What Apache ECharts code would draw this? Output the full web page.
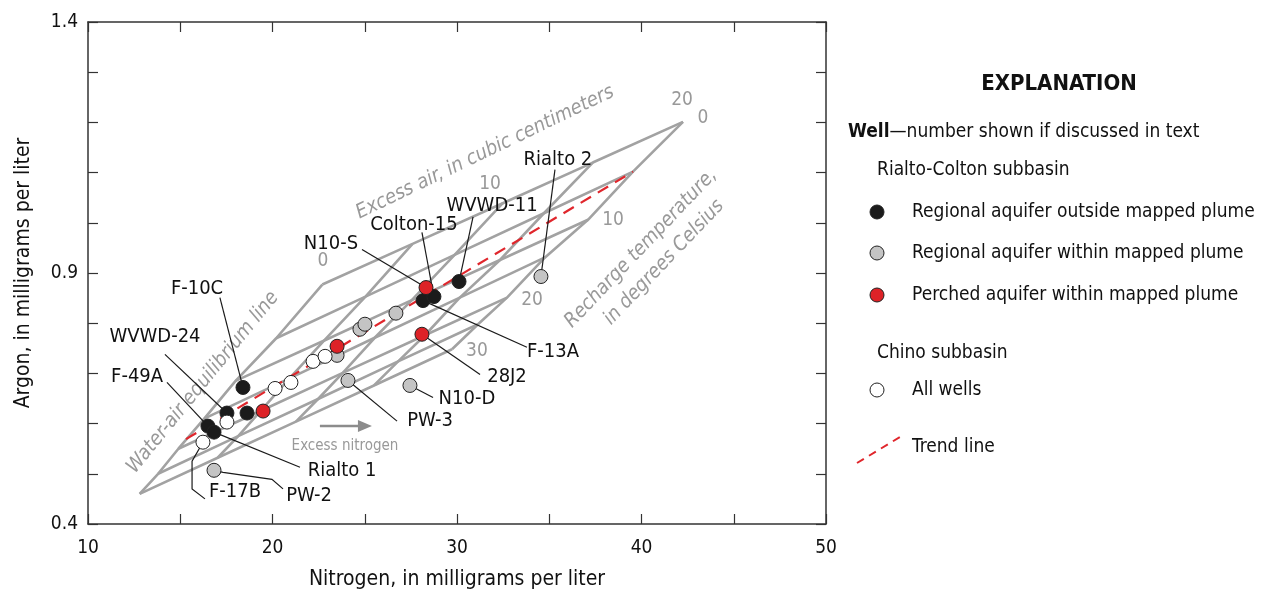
<!DOCTYPE html>
<html>
<head>
<meta charset="utf-8">
<script src="https://cdn.jsdelivr.net/npm/echarts@6/dist/echarts.min.js"></script>
<style>html,body{margin:0;background:#fff}#main{width:1268px;height:595px}</style>
</head>
<body>
<div id="main"></div>
<script>
// wells, [nitrogen mg/L, argon mg/L]
const regionalOutside = [[18.40, 0.672], [17.53, 0.621], [18.62, 0.621], [16.50, 0.595], [16.83, 0.583], [28.16, 0.845], [28.75, 0.853], [30.11, 0.883]];
const regionalWithin = [[16.83, 0.507], [23.50, 0.736], [24.74, 0.788], [25.01, 0.798], [26.69, 0.820], [24.09, 0.686], [27.45, 0.676], [34.55, 0.893]];
const perched = [[19.49, 0.625], [23.50, 0.754], [28.32, 0.871], [28.10, 0.778]];
const chinoWells = [[16.23, 0.563], [17.53, 0.603], [20.14, 0.670], [21.00, 0.682], [22.20, 0.724], [22.85, 0.734]];
const trendLine = [[15.31, 0.569], [39.54, 1.102]];

// recharge temperature / excess air grid, nodes per excess-air level ordered by temperature
const tempC = [0, 5, 10, 15, 20, 25, 30];
const airCc = [0, 5, 10, 15, 20];
const airLine0 = [[22.70, 0.877], [20.20, 0.770], [18.00, 0.685], [16.30, 0.610], [14.90, 0.550], [13.80, 0.500], [12.80, 0.460]];
const airLine5 = [[27.59, 0.958], [25.04, 0.853], [22.78, 0.765], [20.92, 0.690], [19.35, 0.625], [18.14, 0.575], [17.03, 0.532]];
const airLine10 = [[32.48, 1.039], [29.87, 0.936], [27.55, 0.846], [25.54, 0.771], [23.81, 0.701], [22.47, 0.649], [21.27, 0.604]];
const airLine15 = [[37.36, 1.120], [34.71, 1.019], [32.33, 0.926], [30.15, 0.851], [28.26, 0.776], [26.81, 0.724], [25.50, 0.676]];
const airLine20 = [[42.25, 1.201], [39.54, 1.102], [37.10, 1.006], [34.77, 0.931], [32.71, 0.851], [31.14, 0.798], [29.73, 0.748]];
const airLines = [airLine0, airLine5, airLine10, airLine15, airLine20];

// well labels (data coords of label centre) and leader paths
const wellNames = ['F-10C', 'WVWD-24', 'F-49A', 'Rialto 1', 'F-17B', 'PW-2', 'PW-3', 'N10-D', '28J2', 'F-13A', 'N10-S', 'Colton-15', 'WVWD-11', 'Rialto 2'];
const wellLabelAt = [[15.91, 0.869], [13.63, 0.772], [12.66, 0.694], [23.77, 0.505], [17.97, 0.464], [21.98, 0.456], [28.54, 0.605], [30.54, 0.649], [32.71, 0.694], [35.20, 0.744], [23.17, 0.959], [27.67, 0.996], [31.90, 1.034], [35.47, 1.126]];
const leaders = [
  [[17.15, 0.851], [18.40, 0.672]],
  [[14.17, 0.738], [17.53, 0.621]],
  [[14.28, 0.682], [16.50, 0.595]],
  [[16.83, 0.583], [21.49, 0.513]],
  [[16.23, 0.563], [15.64, 0.525], [15.64, 0.470], [16.34, 0.450]],
  [[16.83, 0.507], [17.32, 0.503], [19.97, 0.489], [20.57, 0.470]],
  [[24.09, 0.686], [26.75, 0.605]],
  [[27.45, 0.676], [28.70, 0.652]],
  [[28.10, 0.778], [31.25, 0.698]],
  [[28.16, 0.845], [33.79, 0.752]],
  [[24.85, 0.947], [28.32, 0.871]],
  [[28.10, 0.981], [28.75, 0.853]],
  [[30.87, 1.012], [30.11, 0.883]],
  [[35.31, 1.106], [34.55, 0.893]]
];

// grid scale numbers (excess air along the top, temperature along the right)
const scaleText = ['0', '10', '20', '0', '10', '20', '30'];
const scaleAt = [[22.74, 0.923], [31.79, 1.078], [42.20, 1.245], [43.33, 1.209], [38.46, 1.006], [34.07, 0.847], [31.08, 0.744]];
const captions = ['Excess air, in cubic centimeters', 'Recharge temperature,', 'in degrees Celsius', 'Water-air equilibrium line', 'Excess nitrogen'];
const captionAt = [[31.52, 1.140], [39.97, 0.949], [41.22, 0.921], [16.23, 0.682], [23.93, 0.555]];
const captionRot = [25.7, 46.4, 46.4, 50.8, 0];
const arrowLine = [[22.57, 0.595], [25.39, 0.595]];

const FONT = "'Liberation Sans Narrow', 'DejaVu Sans Condensed', 'Roboto', sans-serif";
const GRAY = '#a2a2a2';
const GRAY_TEXT = '#999999';

const gridSeries = [];
airLines.forEach(function (line) {
  gridSeries.push({ type: 'line', data: line, showSymbol: false, silent: true, z: 1, lineStyle: { color: GRAY, width: 2.6 } });
});
tempC.forEach(function (t, i) {
  gridSeries.push({ type: 'line', data: airLines.map(function (l) { return l[i]; }), showSymbol: false, silent: true, z: 1, lineStyle: { color: GRAY, width: 2.6 } });
});

function wellSeries(name, data, color) {
  return {
    name: name, type: 'scatter', data: data, symbolSize: 14, z: 5,
    itemStyle: { color: color, borderColor: '#222', borderWidth: 1, opacity: 1 }
  };
}

const chart = echarts.init(document.getElementById('main'));

const yTicks = [0.4, 0.9, 1.4];

chart.setOption({
  animation: false,
  backgroundColor: '#fff',
  grid: { left: 88, top: 22, width: 738, height: 503 },
  xAxis: [{
    type: 'value', min: 10, max: 50, interval: 5, position: 'bottom',
    name: 'Nitrogen, in milligrams per liter', nameLocation: 'middle', nameGap: 45,
    nameTextStyle: { fontSize: 21, color: '#111', fontFamily: FONT },
    axisLine: { lineStyle: { color: '#333', width: 1.5 } },
    axisTick: { inside: true, length: 10, lineStyle: { color: '#333', width: 1.2 } },
    axisLabel: { fontSize: 19, color: '#111', fontFamily: FONT, margin: 15, formatter: function (v) { return v % 10 === 0 ? String(v) : ''; } },
    splitLine: { show: false }
  }, {
    type: 'value', min: 10, max: 50, interval: 5, position: 'top',
    axisLine: { lineStyle: { color: '#333', width: 1.5 } },
    axisTick: { inside: true, length: 10, lineStyle: { color: '#333', width: 1.2 } },
    axisLabel: { show: false }, splitLine: { show: false }
  }],
  yAxis: [{
    type: 'value', min: 0.4, max: 1.4, interval: 0.1, position: 'left',
    name: 'Argon, in milligrams per liter', nameLocation: 'middle', nameGap: 54, nameRotate: 90,
    nameTextStyle: { fontSize: 21, color: '#111', fontFamily: FONT },
    axisLine: { lineStyle: { color: '#333', width: 1.5 } },
    axisTick: { inside: true, length: 10, lineStyle: { color: '#333', width: 1.2 } },
    axisLabel: { fontSize: 19, color: '#111', fontFamily: FONT, margin: 10, formatter: function (v) {
      return yTicks.some(function (t) { return Math.abs(t - v) < 1e-6; }) ? v.toFixed(1) : '';
    } },
    splitLine: { show: false }
  }, {
    type: 'value', min: 0.4, max: 1.4, interval: 0.1, position: 'right',
    axisLine: { lineStyle: { color: '#333', width: 1.5 } },
    axisTick: { inside: true, length: 10, lineStyle: { color: '#333', width: 1.2 } },
    axisLabel: { show: false }, splitLine: { show: false }
  }],
  series: gridSeries.concat([
    {
      type: 'line', data: trendLine, showSymbol: false, silent: true, z: 2,
      lineStyle: { color: '#e0262c', width: 2.2, type: [12, 8] }
    },
    {
      // grey scale numbers, captions and excess-nitrogen arrow
      type: 'custom', silent: true, z: 2,
      data: [[0, 0]],
      renderItem: function (params, api) {
        const kids = [];
        scaleText.forEach(function (t, i) {
          const c = api.coord(scaleAt[i]);
          kids.push({ type: 'text', x: c[0], y: c[1], style: { text: t, fill: GRAY_TEXT, fontSize: 19, fontFamily: FONT, align: 'center', verticalAlign: 'middle' } });
        });
        captions.forEach(function (t, i) {
          const c = api.coord(captionAt[i]);
          const last = i === captions.length - 1;
          kids.push({
            type: 'text', x: c[0], y: c[1], rotation: captionRot[i] * Math.PI / 180,
            style: { text: t, fill: GRAY_TEXT, fontSize: last ? 15 : 20, fontStyle: last ? 'normal' : 'italic', fontFamily: FONT, align: 'center', verticalAlign: 'middle' }
          });
        });
        const a0 = api.coord(arrowLine[0]);
        const a1 = api.coord(arrowLine[1]);
        kids.push({ type: 'line', shape: { x1: a0[0], y1: a0[1], x2: a1[0] - 10, y2: a1[1] }, style: { stroke: '#8c8c8c', lineWidth: 2.5 } });
        kids.push({ type: 'polygon', shape: { points: [[a1[0], a1[1]], [a1[0] - 14, a1[1] - 6], [a1[0] - 14, a1[1] + 6]] }, style: { fill: '#8c8c8c' } });
        return { type: 'group', children: kids };
      }
    },
    {
      // well labels with leader lines
      type: 'custom', silent: true, z: 4,
      data: wellNames.map(function (n, i) { return wellLabelAt[i]; }),
      renderItem: function (params, api) {
        const i = params.dataIndex;
        const pts = leaders[i].map(function (p) { return api.coord(p); });
        const c = api.coord(wellLabelAt[i]);
        return {
          type: 'group', children: [
            { type: 'polyline', shape: { points: pts }, style: { stroke: '#1a1a1a', lineWidth: 1.2, fill: null } },
            { type: 'text', x: c[0], y: c[1], style: { text: wellNames[i], fill: '#111', fontSize: 20, fontFamily: FONT, align: 'center', verticalAlign: 'middle' } }
          ]
        };
      }
    },
    wellSeries('Regional aquifer outside mapped plume', regionalOutside, '#1b1b1b'),
    wellSeries('Regional aquifer within mapped plume', regionalWithin, '#c4c4c4'),
    wellSeries('Perched aquifer within mapped plume', perched, '#dd2227'),
    wellSeries('All wells', chinoWells, '#ffffff')
  ]),
  graphic: [
    { type: 'text', x: 1059, y: 84, style: { text: 'EXPLANATION', fontSize: 22, fontWeight: 'bold', fill: '#111', fontFamily: FONT, align: 'center', verticalAlign: 'middle' } },
    { type: 'text', x: 848, y: 132, style: {
      text: '{b|Well}—number shown if discussed in text', fontSize: 19, fill: '#111', fontFamily: FONT, verticalAlign: 'middle',
      rich: { b: { fontWeight: 'bold', fontSize: 19, fontFamily: FONT, fill: '#111' } }
    } },
    { type: 'text', x: 877, y: 170, style: { text: 'Rialto-Colton subbasin', fontSize: 19, fill: '#111', fontFamily: FONT, verticalAlign: 'middle' } },
    { type: 'circle', shape: { cx: 877, cy: 212, r: 7 }, style: { fill: '#1b1b1b', stroke: '#222', lineWidth: 1 } },
    { type: 'text', x: 912, y: 212, style: { text: 'Regional aquifer outside mapped plume', fontSize: 19, fill: '#111', fontFamily: FONT, verticalAlign: 'middle' } },
    { type: 'circle', shape: { cx: 877, cy: 253, r: 7 }, style: { fill: '#c4c4c4', stroke: '#222', lineWidth: 1 } },
    { type: 'text', x: 912, y: 253, style: { text: 'Regional aquifer within mapped plume', fontSize: 19, fill: '#111', fontFamily: FONT, verticalAlign: 'middle' } },
    { type: 'circle', shape: { cx: 877, cy: 295, r: 7 }, style: { fill: '#dd2227', stroke: '#222', lineWidth: 1 } },
    { type: 'text', x: 912, y: 295, style: { text: 'Perched aquifer within mapped plume', fontSize: 19, fill: '#111', fontFamily: FONT, verticalAlign: 'middle' } },
    { type: 'text', x: 877, y: 353, style: { text: 'Chino subbasin', fontSize: 19, fill: '#111', fontFamily: FONT, verticalAlign: 'middle' } },
    { type: 'circle', shape: { cx: 877, cy: 390, r: 7 }, style: { fill: '#fff', stroke: '#222', lineWidth: 1 } },
    { type: 'text', x: 912, y: 390, style: { text: 'All wells', fontSize: 19, fill: '#111', fontFamily: FONT, verticalAlign: 'middle' } },
    { type: 'line', shape: { x1: 857, y1: 463, x2: 900, y2: 437 }, style: { stroke: '#e0262c', lineWidth: 2, lineDash: [8, 6] } },
    { type: 'text', x: 912, y: 447, style: { text: 'Trend line', fontSize: 19, fill: '#111', fontFamily: FONT, verticalAlign: 'middle' } }
  ]
});
</script>
</body>
</html>
